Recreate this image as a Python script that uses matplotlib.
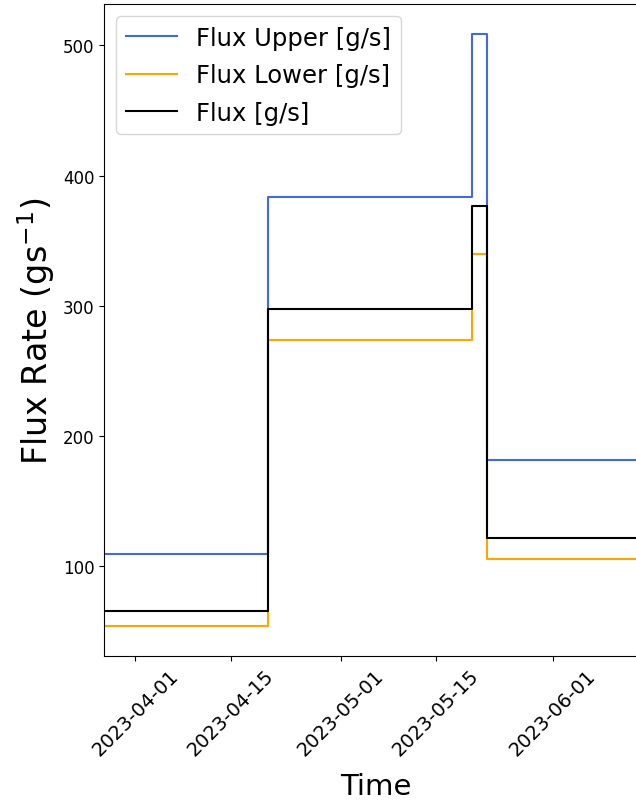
import matplotlib
matplotlib.use("Agg")
import matplotlib.pyplot as plt
import numpy as np
import pandas as pd

# step change times (steps-post), last one only closes the final segment
times = pd.to_datetime([
    "2023-03-27 10:00", "2023-04-20 10:30", "2023-05-20 07:00",
    "2023-05-22 10:00", "2023-06-15 00:00",
])
flux_upper = [109.7, 383.6, 509.0, 181.4, 181.4]
flux_lower = [53.9, 273.5, 340.1, 105.9, 105.9]
flux = [65.7, 297.3, 376.4, 121.8, 121.8]

tick_dates = pd.to_datetime(["2023-04-01", "2023-04-15", "2023-05-01",
                             "2023-05-15", "2023-06-01"])

fig = plt.figure(figsize=(6.36, 8.04), dpi=100)
ax = fig.add_axes([0.1635, 0.1828, 0.8558, 0.811])

ax.step(times, flux_upper, where="post", color="royalblue", lw=1.5, label="Flux Upper [g/s]")
ax.step(times, flux_lower, where="post", color="orange", lw=1.5, label="Flux Lower [g/s]")
ax.step(times, flux, where="post", color="black", lw=1.5, label="Flux [g/s]")

ax.set_xlim(times[0], times[-1])
ax.set_xticks(tick_dates)
ax.set_xticklabels([d.strftime("%Y-%m-%d") for d in tick_dates], rotation=45, fontsize=14)
ax.set_yticks([100, 200, 300, 400, 500])
ax.tick_params(axis="y", labelsize=12)

ax.set_xlabel("Time", fontsize=21, labelpad=9)
ax.set_ylabel("Flux Rate (gs$^{-1}$)", fontsize=24)

ax.legend(loc="upper left", fontsize=17.5, labelspacing=0.55, handlelength=2.1)

fig.savefig("out.png", dpi=100)
